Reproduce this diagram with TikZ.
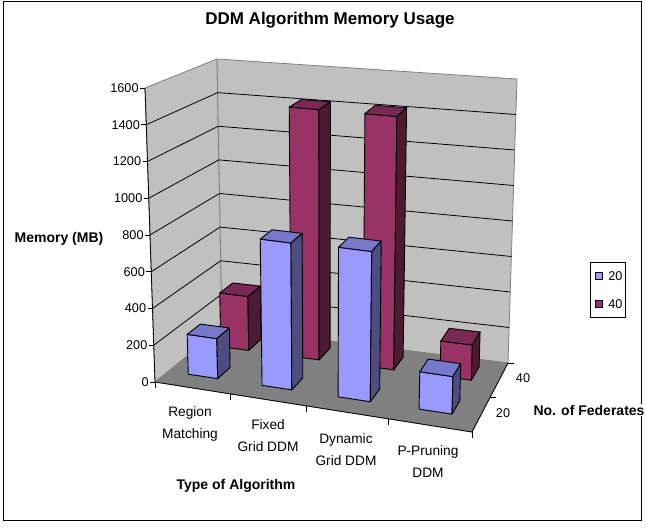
\documentclass[tikz,border=0pt]{standalone}
\usepackage{fontspec}
\setmainfont{Liberation Sans}
\usetikzlibrary{positioning}

\definecolor{wallgray}{RGB}{192,192,192}
\definecolor{floorgray}{RGB}{128,128,128}
\definecolor{blueF}{RGB}{153,153,255}
\definecolor{blueT}{RGB}{119,119,204}
\definecolor{blueS}{RGB}{77,77,128}
\definecolor{redF}{RGB}{153,51,102}
\definecolor{redT}{RGB}{122,41,82}
\definecolor{redS}{RGB}{77,26,51}

% chart cs: category position u, depth v, value
\makeatletter
\def\chartpt#1,#2,#3\@nil{%
  \pgfmathsetmacro\chU{#1}%
  \pgfmathsetmacro\chV{#2}%
  \pgfmathsetmacro\chH{(#3)/1600}%
  \pgfmathsetmacro\chX{(1-\chV)*((1-\chH)*(155+317*\chU)+\chH*(145+336*\chU))+\chV*((1-\chH)*(222+286*\chU)+\chH*(217+300*\chU))}%
  \pgfmathsetmacro\chY{(1-\chV)*((1-\chH)*(382+50*\chU)+\chH*(88+39*\chU))+\chV*((1-\chH)*(328+35*\chU)+\chH*(59+20*\chU))}%
  \pgfpoint{\chX pt}{-\chY pt}%
}
\tikzdeclarecoordinatesystem{chart}{\chartpt#1\@nil}
\makeatother

\newcommand{\drawcolumn}[8]{%
  \filldraw[colface,fill=#6] (chart cs:#1,#3,0) -- (chart cs:#2,#3,0) -- (chart cs:#2,#3,#5) -- (chart cs:#1,#3,#5) -- cycle;
  \filldraw[colface,fill=#7] (chart cs:#1,#3,#5) -- (chart cs:#2,#3,#5) -- (chart cs:#2,#4,#5) -- (chart cs:#1,#4,#5) -- cycle;
  \filldraw[colface,fill=#8] (chart cs:#2,#3,0) -- (chart cs:#2,#4,0) -- (chart cs:#2,#4,#5) -- (chart cs:#2,#3,#5) -- cycle;
}

\begin{document}
\begin{tikzpicture}[x=1pt,y=-1pt,
  lbl/.style={font=\fontsize{12.7}{15}\selectfont, inner sep=1pt},
  catlbl/.style={font=\fontsize{13.7}{22}\selectfont, align=center, inner sep=0pt},
  ttl/.style={font=\fontsize{14}{16}\selectfont\bfseries, inner sep=1pt},
  colface/.style={draw=black, line width=0.9pt, line join=round},
  wall/.style={draw=floorgray, line width=0.8pt, line join=round},
  gridln/.style={black, line width=0.8pt},
  swatch/.style={draw=black, line width=0.6pt, minimum size=7pt, inner sep=0pt}]

\useasboundingbox (0,0) rectangle (646,529);
\draw[line width=1pt] (3,2) rectangle (641,521);

\node[font=\fontsize{17}{20}\selectfont\bfseries] (title) at (330,20) {DDM Algorithm Memory Usage};

% walls and floor
\filldraw[wall,fill=wallgray] (chart cs:0,0,0) -- (chart cs:0,0,1600) -- (chart cs:0,1,1600) -- (chart cs:0,1,0) -- cycle;
\filldraw[wall,fill=wallgray] (chart cs:0,1,0) -- (chart cs:0,1,1600) -- (chart cs:1,1,1600) -- (chart cs:1,1,0) -- cycle;
\filldraw[wall,fill=floorgray] (chart cs:0,0,0) -- (chart cs:1,0,0) -- (chart cs:1,1,0) -- (chart cs:0,1,0) -- cycle;

\foreach \h in {200,400,...,1400}{
  \draw[gridln] (chart cs:0,0,\h) -- (chart cs:0,1,\h) -- (chart cs:1,1,\h);
}

% axes
\draw[gridln] (chart cs:0,0,0) -- (chart cs:0,0,1600);
\draw[gridln] (chart cs:0,0,0) -- (chart cs:1,0,0) -- (chart cs:1,1,0);
\foreach \h in {0,200,...,1600}{
  \draw[gridln] (chart cs:0,0,\h) -- ++(-5,0) node[lbl,anchor=east] (v\h) {\h};
}
\foreach \b in {0,0.2366,0.4763,0.735,1}{
  \draw[gridln] (chart cs:\b,0,0) -- ++(0,6);
}
\foreach \d in {0.5,1}{
  \draw[gridln] (chart cs:1,\d,0) -- ++(6,0);
}

% 40 federates
\foreach \ua/\ub/\val in {0.0639/0.1585/310,0.3013/0.3972/1420,0.5461/0.6496/1420,0.8066/0.9126/195}
  \drawcolumn{\ua}{\ub}{0.7}{0.9}{\val}{redF}{redT}{redS};
% 20 federates
\foreach \ua/\ub/\val in {0.0639/0.1585/220,0.3013/0.3972/800,0.5461/0.6496/810,0.8066/0.9126/200}
  \drawcolumn{\ua}{\ub}{0.2}{0.4}{\val}{blueF}{blueT}{blueS};

% labels
\node[catlbl] (rm) at (190,424) {Region\\Matching};
\node[catlbl] (fg) at (268,436) {Fixed\\Grid DDM};
\node[catlbl] (dg) at (346,450) {Dynamic\\Grid DDM};
\node[catlbl] (pp) at (428,462) {P-Pruning\\DDM};
\node[ttl] (xlab) at (236,486) {Type of Algorithm};
\node[ttl] (ylab) at (59,239) {Memory (MB)};
\node[ttl,fill=white] (zlab) at (589,410) {No. of Federates};
\node[lbl] (d20) at (503,413) {20};
\node[lbl] (d40) at (523,378) {40};

% legend
\node[draw=black, line width=0.6pt, minimum width=35pt, minimum height=55pt] (lg) at (607.5,289.5) {};
\node[swatch, fill=blueF] (s20) at (598.3,276) {};
\node[swatch, fill=redF] (s40) at (598.3,304) {};
\node[lbl, right=5pt of s20] (l20) {20};
\node[lbl, right=5pt of s40] (l40) {40};

\end{tikzpicture}
\end{document}
